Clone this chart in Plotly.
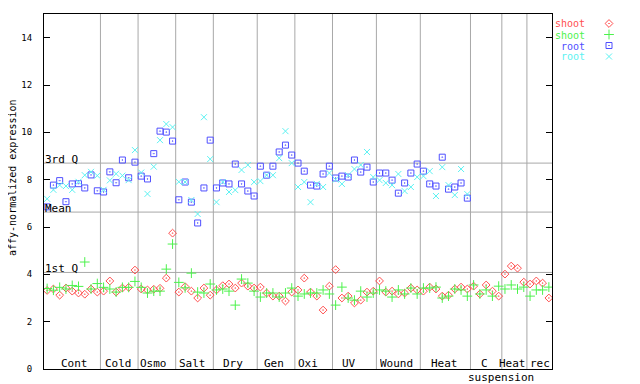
import plotly.graph_objects as go

# ---------------- data ----------------
groups = ["Cont", "Cold", "Osmo", "Salt", "Dry", "Gen", "Oxi", "UV", "Wound", "Heat", "C", "Heat", "rec"]
group_sizes = [9, 6, 6, 6, 7, 6, 6, 7, 7, 8, 5, 4, 4]
group_label_x = [5.44, 12.30, 17.88, 24.10, 30.63, 37.17, 42.59, 49.13, 56.78, 64.28, 70.81, 75.28, 79.58]
sub_label = "suspension"
sub_label_x = 73.36

shoot_1 = [3.32, 3.38, 3.12, 3.42, 3.29, 3.21, 3.16, 3.38, 3.25, 3.29, 3.72, 3.25, 3.42, 3.45, 4.18,
           3.38, 3.34, 3.37, 3.41, 3.84, 5.74, 3.25, 3.48, 3.29, 3.00, 3.42, 3.12, 3.34, 3.52, 3.59,
           3.42, 3.63, 3.50, 3.42, 3.46, 3.21, 3.08, 3.08, 2.87, 3.25, 3.34, 3.84, 3.25, 3.08, 2.49,
           3.50, 4.20, 3.00, 3.08, 2.79, 2.91, 3.25, 3.29, 3.72, 3.25, 3.29, 3.17, 3.21, 3.42, 3.34,
           3.29, 3.46, 3.38, 3.08, 3.12, 3.38, 3.46, 3.38, 3.50, 3.17, 3.55, 3.29, 3.08, 4.01, 4.35,
           4.26, 3.67, 3.59, 3.72, 3.63, 3.00]
shoot_2 = [3.40, 3.33, 3.45, 3.38, 3.53, 3.49, 4.52, 3.38, 3.61, 3.45, 3.38, 3.25, 3.45, 3.45, 3.70,
           3.45, 3.21, 3.29, 3.29, 4.22, 5.28, 3.66, 3.43, 4.05, 3.25, 3.21, 3.59, 3.34, 3.38, 3.29,
           2.70, 3.80, 3.63, 3.29, 3.04, 3.21, 3.21, 3.04, 3.21, 3.42, 3.08, 3.17, 3.21, 3.21, 3.34,
           3.17, 2.70, 3.46, 3.00, 2.91, 3.29, 3.04, 3.21, 3.34, 3.29, 3.04, 3.34, 3.17, 3.42, 3.17,
           3.42, 3.42, 3.46, 3.00, 3.08, 3.38, 3.34, 3.08, 3.55, 3.17, 3.34, 3.08, 3.50, 3.38, 3.55,
           3.38, 3.46, 3.08, 3.34, 3.34, 3.46]
root_1 = [6.85, 7.77, 7.96, 7.07, 7.82, 7.83, 7.65, 8.20, 7.53, 7.48, 8.33, 7.87, 8.83, 8.08, 8.74,
          8.15, 8.03, 9.10, 10.05, 10.01, 9.63, 7.15, 7.90, 7.05, 6.17, 7.65, 9.67, 7.65, 7.86, 7.82,
          8.66, 7.82, 7.52, 7.31, 8.57, 8.19, 8.57, 9.17, 9.46, 9.04, 8.70, 8.36, 7.77, 7.73, 8.24,
          8.57, 8.07, 8.15, 8.11, 8.83, 8.32, 8.53, 7.90, 8.28, 8.28, 7.98, 7.43, 7.86, 8.28, 8.66,
          8.36, 7.82, 7.73, 8.95, 7.60, 7.69, 7.86, 7.22]
root_2 = [7.19, 7.57, 7.77, 7.73, 7.57, 7.91, 8.19, 8.33, 8.17, 7.57, 7.97, 8.25, 8.17, 7.98, 9.25,
          8.30, 7.40, 8.55, 9.67, 10.35, 10.22, 7.91, 7.90, 7.14, 6.55, 10.64, 8.87, 7.05, 7.90, 7.48,
          7.56, 8.41, 8.62, 7.90, 7.94, 8.19, 8.19, 8.91, 10.05, 8.70, 7.69, 7.90, 7.05, 7.82, 7.69,
          8.28, 8.00, 7.82, 8.19, 8.45, 8.62, 9.17, 8.11, 7.98, 7.86, 7.77, 8.24, 7.52, 7.69, 8.11,
          8.15, 8.36, 7.31, 8.53, 7.77, 7.35, 8.45, 7.39]

q_names = ["3rd Q", "Mean", "1st Q"]
q_values = [8.70, 6.63, 4.08]

series_names = ["shoot", "shoot", "root", "root"]
series_values = [shoot_1, shoot_2, root_1, root_2]

# ---------------- style / layout ----------------
OFF = 8                      # page body margin of the html page
W, H = 640 - OFF, 384 - OFF  # figure size so the page shows exactly 640x384


def fx(p):  # page pixel x -> paper
    return (p - OFF) / W


def fy(p):  # page pixel y -> paper
    return 1 - (p - OFF) / H


PL, PR, PT, PB = 44, 552, 14, 369
colors = ["#ff4f4f", "#4cf24c", "#4f4fff", "#5cf2f2"]
symbols = ["diamond-open-dot", "cross-thin-open", "square-open-dot", "x-thin-open"]
sizes = [6, 7, 6, 6]
FONT = "DejaVu Sans Mono"
grid_col = "#a8a8a8"

n_total = sum(group_sizes)
fig = go.Figure()

for name, vals, c, s, sz in zip(series_names, series_values, colors, symbols, sizes):
    xs = list(range(1, len(vals) + 1))
    fig.add_trace(go.Scatter(x=xs, y=vals, mode="markers", name=name, showlegend=False,
                             marker=dict(symbol=s, size=sz, color=c, line=dict(width=1, color=c)),
                             xaxis="x", yaxis="y"))

shapes = []
pos = 0.5
for gs in group_sizes[:-1]:
    pos += gs
    shapes.append(dict(type="line", xref="x", yref="y", x0=pos, x1=pos, y0=0, y1=15,
                       line=dict(color=grid_col, width=1), layer="below"))
for qv in q_values:
    shapes.append(dict(type="line", xref="x", yref="y", x0=0.5, x1=n_total + 0.5, y0=qv, y1=qv,
                       line=dict(color=grid_col, width=1), layer="below"))

annotations = []
for qn, qv in zip(q_names, q_values):
    annotations.append(dict(x=0.5, y=qv, xref="x", yref="y", text=qn, showarrow=False,
                            xanchor="left", yanchor="bottom", yshift=-3, borderpad=0, height=12,
                            font=dict(family=FONT, size=11, color="black")))
for g, gx in zip(groups, group_label_x):
    annotations.append(dict(x=gx, y=fy(363), xref="x", yref="paper", text=g, showarrow=False,
                            xanchor="center", yanchor="middle", borderpad=0, height=12,
                            font=dict(family=FONT, size=11, color="black")))
annotations.append(dict(x=sub_label_x, y=fy(377), xref="x", yref="paper", text=sub_label,
                        showarrow=False, xanchor="center", yanchor="middle", borderpad=0, height=12,
                        font=dict(family=FONT, size=11, color="black")))
annotations.append(dict(x=fx(12), y=fy(178), xref="paper", yref="paper",
                        text="affy-normalized expression", textangle=-90, showarrow=False,
                        xanchor="center", yanchor="middle", borderpad=0,
                        font=dict(family=FONT, size=10, color="black")))

# legend (text then marker, right margin)
for k, (name, c, s, sz) in enumerate(zip(series_names, colors, symbols, sizes)):
    ly = 23.5 + k * 11
    annotations.append(dict(x=fx(586), y=fy(ly), xref="paper", yref="paper", text=name,
                            showarrow=False, xanchor="right", yanchor="middle", borderpad=0,
                            height=10, font=dict(family=FONT, size=10, color=c)))
    fig.add_trace(go.Scatter(x=[609 - OFF], y=[ly - OFF], mode="markers", showlegend=False,
                             hoverinfo="skip",
                             marker=dict(symbol=s, size=sz, color=c, line=dict(width=1, color=c)),
                             xaxis="x2", yaxis="y2"))

fig.update_layout(
    width=W, height=H, margin=dict(l=0, r=0, t=0, b=0),
    paper_bgcolor="white", plot_bgcolor="rgba(0,0,0,0)", showlegend=False,
    xaxis=dict(domain=[fx(PL), fx(PR)], range=[0.5, n_total + 0.5], showgrid=False, zeroline=False,
               showticklabels=False, ticks="", showline=True, linecolor="black", linewidth=1,
               mirror=True),
    yaxis=dict(domain=[fy(PB), fy(PT)], range=[0, 15], tickvals=list(range(0, 15, 2)),
               showgrid=False, zeroline=False, ticks="inside", ticklen=6, tickcolor="black",
               showline=True, linecolor="black", linewidth=1, mirror="ticks", automargin=False,
               ticklabelstandoff=9, tickfont=dict(family=FONT, size=9, color="black")),
    xaxis2=dict(domain=[0, 1], range=[0, W], visible=False, anchor="y2"),
    yaxis2=dict(domain=[0, 1], range=[H, 0], visible=False, anchor="x2"),
    shapes=shapes, annotations=annotations,
)

fig.write_html("out.html")
